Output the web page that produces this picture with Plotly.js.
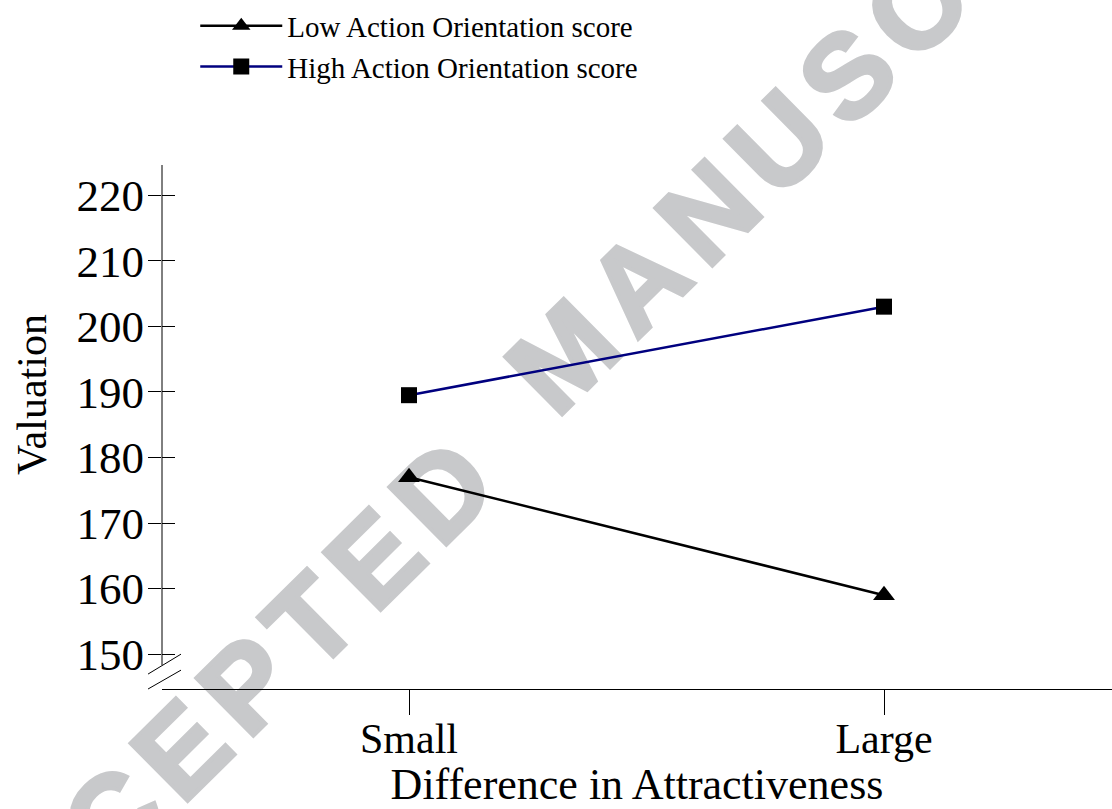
<!DOCTYPE html>
<html>
<head>
<meta charset="utf-8">
<script src="https://cdn.plot.ly/plotly-3.0.1.min.js"></script>
<style>
html,body{margin:0;padding:0;background:#fff;}
#wrap{position:relative;width:1112px;height:809px;overflow:hidden;background:#fff;}
.wm{position:absolute;transform:translate(-50%,-50%) rotate(-44.7deg);
  font-family:"Liberation Sans",Arial,sans-serif;font-weight:bold;font-size:118px;line-height:1;
  letter-spacing:14px;color:#c8c9cb;-webkit-text-stroke:4px #c8c9cb;white-space:nowrap;z-index:0;}
#wm1{left:212px;top:719px;}
#wm2{left:857px;top:65px;}
#chart{position:absolute;left:0;top:0;width:1112px;height:809px;z-index:1;}
</style>
</head>
<body>
<div id="wrap">
<div class="wm" id="wm1">ACCEPTED</div>
<div class="wm" id="wm2">MANUSCRIPT</div>
<div id="chart"></div>
</div>
<script>
const categories = ["Small", "Large"];
const lowAO = [177, 159];
const highAO = [189.5, 203];
const yTicks = [150, 160, 170, 180, 190, 200, 210, 220];

const serif = "Liberation Serif, Times New Roman, serif";

const traces = [
  {
    x: categories, y: lowAO, type: "scatter", mode: "lines+markers",
    name: "Low Action Orientation score",
    line: {color: "#000000", width: 2.5},
    marker: {symbol: "triangle-up", size: 19, color: "#000000"}
  },
  {
    x: categories, y: highAO, type: "scatter", mode: "lines+markers",
    name: "High Action Orientation score",
    line: {color: "#00007f", width: 2.5},
    marker: {symbol: "square", size: 16, color: "#000000"}
  },
  {
    x: categories, y: [null, null], type: "scatter", mode: "lines",
    yaxis: "y2", showlegend: false, hoverinfo: "skip"
  }
];

const yRange = [144.7, 224.6];

const layout = {
  width: 1112, height: 809,
  margin: {l: 162, r: 0, t: 163, b: 120},
  paper_bgcolor: "rgba(0,0,0,0)",
  plot_bgcolor: "rgba(0,0,0,0)",
  font: {family: serif, color: "#000"},
  showlegend: true,
  legend: {
    x: 0.035, y: 1.314, xanchor: "left", yanchor: "top",
    bgcolor: "rgba(0,0,0,0)", font: {family: serif, size: 29, color: "#000"},
    tracegroupgap: 0, itemwidth: 82
  },
  xaxis: {
    type: "category", range: [-0.52, 1.48],
    showline: true, linecolor: "#000", linewidth: 1,
    ticks: "outside", ticklen: 25, tickcolor: "#000", tickwidth: 1,
    ticklabelstandoff: -12,
    showgrid: false, zeroline: false,
    tickfont: {family: serif, size: 42, color: "#000"},
    title: {text: "Difference in Attractiveness", font: {family: serif, size: 44, color: "#000"}, standoff: 0}
  },
  yaxis: {
    range: yRange, tickvals: yTicks,
    showline: false, ticks: "outside", ticklen: 13, tickcolor: "#000", tickwidth: 1,
    ticklabelstandoff: -5,
    showgrid: false, zeroline: false,
    tickfont: {family: serif, size: 45, color: "#000"}
  },
  yaxis2: {
    range: yRange, tickvals: yTicks, overlaying: "y",
    showline: false, ticks: "inside", ticklen: 13, tickcolor: "#000", tickwidth: 1,
    showgrid: false, zeroline: false, showticklabels: false
  },
  annotations: [
    {text: "Valuation", xref: "paper", yref: "paper", x: -0.1368, y: 0.561,
     xanchor: "center", yanchor: "middle", textangle: -90, showarrow: false,
     font: {family: serif, size: 42, color: "#000"}}
  ],
  shapes: [
    {type: "line", xref: "paper", yref: "paper", x0: 0, x1: 0, y0: 0.0456, y1: 1, line: {color: "#000", width: 1}},
    {type: "line", xref: "paper", yref: "paper", x0: -0.0147, x1: 0.02, y0: 0.0285, y1: 0.0665, line: {color: "#000", width: 1}},
    {type: "line", xref: "paper", yref: "paper", x0: -0.0147, x1: 0.02, y0: 0.0, y1: 0.036, line: {color: "#000", width: 1}}
  ]
};

Plotly.newPlot("chart", traces, layout, {displayModeBar: false, staticPlot: true});
</script>
</body>
</html>
